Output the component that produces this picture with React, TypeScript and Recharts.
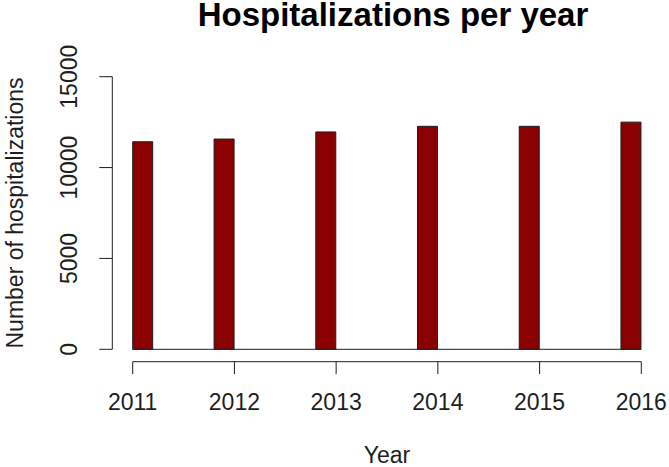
import React from 'react';
import { BarChart, Bar, XAxis, YAxis, ReferenceLine } from 'recharts';

// hospitalizations counted per year
const years = [2011, 2012, 2013, 2014, 2015, 2016];
const hospitalizations = [11420, 11570, 11960, 12270, 12270, 12500];
const yTicks = [0, 5000, 10000, 15000];
const binsPerYear = 5; // R's hist() default breaks: 0.2 wide, right-closed

const FONT = '"Liberation Sans", Arial, sans-serif';
const INK = '#1e1e1e';

// build the histogram table: each year falls in the bin whose right edge is the year
// (the first bin is closed on both sides, as R does it)
const binCount = (years[years.length - 1] - years[0]) * binsPerYear;
const histData = Array.from({ length: binCount }, (_, i) => ({
  bin: (years[0] + i / binsPerYear).toFixed(1),
  from: years[0] + i / binsPerYear,
  count: 0,
}));
years.forEach((yr, k) => {
  const idx = k === 0 ? 0 : (yr - years[0]) * binsPerYear - 1;
  histData[idx].count = hospitalizations[k];
});

const YTick = (props: any) => {
  const { x, y, payload } = props;
  return (
    <text
      x={x}
      y={y}
      transform={`rotate(-90, ${x}, ${y})`}
      textAnchor="middle"
      dominantBaseline="central"
      fontSize={23}
      fontFamily={FONT}
      fill={INK}
    >
      {payload.value}
    </text>
  );
};

const YTitle = (props: any) => {
  const { viewBox } = props;
  const x = viewBox.x + 15;
  const y = viewBox.y + viewBox.height / 2;
  return (
    <text
      x={x}
      y={y}
      transform={`rotate(-90, ${x}, ${y})`}
      textAnchor="middle"
      dominantBaseline="central"
      fontSize={23}
      fontFamily={FONT}
      fill={INK}
    >
      Number of hospitalizations
    </text>
  );
};

const XTitle = (props: any) => {
  const { viewBox } = props;
  return (
    <text
      x={viewBox.x + viewBox.width / 2}
      y={463}
      textAnchor="middle"
      fontSize={23}
      fontFamily={FONT}
      fill={INK}
    >
      Year
    </text>
  );
};

export default function App() {
  return (
    <div style={{ position: 'absolute', left: 0, top: 0, width: 669, height: 467, background: '#fff' }}>
      <div
        style={{
          position: 'absolute',
          left: 118,
          top: 0,
          width: 550,
          textAlign: 'center',
          fontFamily: FONT,
          fontWeight: 'bold',
          fontSize: 33,
          lineHeight: '30px',
          color: '#000',
        }}
      >
        Hospitalizations per year
      </div>
      <BarChart
        width={669}
        height={467}
        data={histData}
        margin={{ top: 76.7, right: 27.7, bottom: 0, left: 0 }}
        barCategoryGap={0}
        barGap={0}
      >
        {/* spacer axes (id 0): R draws its axes detached from the data region */}
        <YAxis yAxisId={0} width={20.4} domain={[0, 15000]} axisLine={false} tickLine={false} tick={false} />
        <YAxis
          yAxisId={1}
          width={112.3}
          domain={[0, 15000]}
          ticks={yTicks}
          interval={0}
          tickSize={13}
          tickMargin={30}
          axisLine={{ stroke: INK }}
          tickLine={{ stroke: INK }}
          tick={<YTick />}
          label={<YTitle />}
        />
        <XAxis xAxisId={0} dataKey="bin" height={12.4} axisLine={false} tickLine={false} tick={false} />
        <XAxis
          xAxisId={1}
          dataKey="from"
          type="number"
          scale="linear"
          domain={[years[0], years[years.length - 1]]}
          ticks={years}
          interval={0}
          allowDataOverflow
          height={105.3}
          tickSize={12.4}
          tickMargin={20}
          axisLine={{ stroke: INK }}
          tickLine={{ stroke: INK }}
          tick={{ fill: INK, fontSize: 23, fontFamily: FONT }}
          label={<XTitle />}
        />
        <ReferenceLine y={0} xAxisId={0} yAxisId={1} stroke={INK} />
        <Bar
          dataKey="count"
          xAxisId={0}
          yAxisId={1}
          fill="#8B0000"
          stroke={INK}
          strokeWidth={1}
          isAnimationActive={false}
        />
      </BarChart>
    </div>
  );
}
